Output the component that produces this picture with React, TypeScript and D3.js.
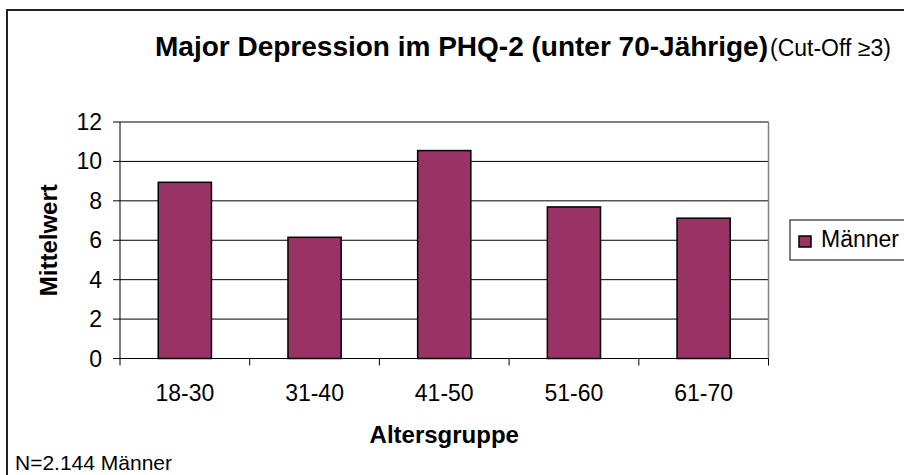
import React from 'react';
import * as d3 from 'd3';

const ageGroups = ['18-30', '31-40', '41-50', '51-60', '61-70'];
const meanValues = [8.94, 6.15, 10.55, 7.69, 7.12];
const yTicks = [0, 2, 4, 6, 8, 10, 12];
const seriesName = 'Männer';

const FONT = '"Liberation Sans", Arial, sans-serif';

const App: React.FC = () => {
  const width = 904;
  const height = 475;
  const plot = { left: 120, right: 768.5, top: 122, bottom: 358.5 };

  const x = d3.scaleBand<string>()
    .domain(ageGroups)
    .range([plot.left, plot.right])
    .paddingInner(0.59)
    .paddingOuter(0.295);

  const y = d3.scaleLinear()
    .domain([0, 12])
    .range([plot.bottom, plot.top]);

  const step = x.step();
  const boundaries = d3.range(ageGroups.length + 1).map((i) => plot.left + i * step);

  return (
    <svg
      width={width}
      height={height}
      style={{ position: 'absolute', left: 0, top: 0, background: '#fff' }}
      fontFamily={FONT}
    >
      {/* chart frame */}
      <rect x={7} y={10} width={1000} height={1000} fill="#fff" stroke="#222" strokeWidth={2} />

      {/* title */}
      <text x={155} y={56} fontSize={28} fontWeight="bold" textLength={613} lengthAdjust="spacingAndGlyphs">
        Major Depression im PHQ-2 (unter 70-Jährige)
      </text>
      <text x={770} y={56} fontSize={23}>(Cut-Off ≥3)</text>

      {/* gridlines */}
      {yTicks.filter((t) => t > 0).map((t) => (
        <line key={`g${t}`} x1={plot.left} x2={plot.right} y1={y(t)} y2={y(t)} stroke="#000" strokeWidth={1} />
      ))}

      {/* plot area border */}
      <line x1={plot.right} x2={plot.right} y1={plot.top} y2={plot.bottom} stroke="#808080" strokeWidth={1.5} />
      <line x1={plot.left} x2={plot.right} y1={plot.top} y2={plot.top} stroke="#808080" strokeWidth={1.5} />

      {/* bars */}
      {ageGroups.map((g, i) => (
        <rect
          key={g}
          x={x(g)}
          y={y(meanValues[i])}
          width={x.bandwidth()}
          height={y(0) - y(meanValues[i])}
          fill="#993366"
          stroke="#000"
          strokeWidth={1.5}
        />
      ))}

      {/* y axis */}
      <line x1={plot.left} x2={plot.left} y1={plot.top} y2={plot.bottom} stroke="#000" strokeWidth={1} />
      {yTicks.map((t) => (
        <g key={`y${t}`}>
          <line x1={plot.left - 7} x2={plot.left} y1={y(t)} y2={y(t)} stroke="#000" />
          <text x={102} y={y(t) + 8} fontSize={23} textAnchor="end">{t}</text>
        </g>
      ))}

      {/* x axis */}
      <line x1={plot.left} x2={plot.right} y1={y(0)} y2={y(0)} stroke="#000" strokeWidth={1} />
      {boundaries.map((bx, i) => (
        <line key={`xt${i}`} x1={bx} x2={bx} y1={y(0)} y2={y(0) + 7} stroke="#000" />
      ))}
      {ageGroups.map((g) => (
        <text key={`xl${g}`} x={(x(g) ?? 0) + x.bandwidth() / 2} y={401} fontSize={23} textAnchor="middle">
          {g}
        </text>
      ))}

      {/* axis titles */}
      <text x={(plot.left + plot.right) / 2} y={443} fontSize={24} fontWeight="bold" textAnchor="middle">
        Altersgruppe
      </text>
      <text
        transform={`translate(57, ${(plot.top + plot.bottom) / 2}) rotate(-90)`}
        fontSize={24}
        fontWeight="bold"
        textAnchor="middle"
      >
        Mittelwert
      </text>

      {/* legend */}
      <rect x={790} y={220} width={200} height={40} fill="#fff" stroke="#000" strokeWidth={1} />
      <rect x={799} y={236} width={12} height={11} fill="#993366" stroke="#000" strokeWidth={1.5} />
      <text x={821} y={247} fontSize={23}>{seriesName}</text>

      {/* footnote */}
      <text x={15} y={470} fontSize={21}>N=2.144 Männer</text>
    </svg>
  );
};

export default App;
